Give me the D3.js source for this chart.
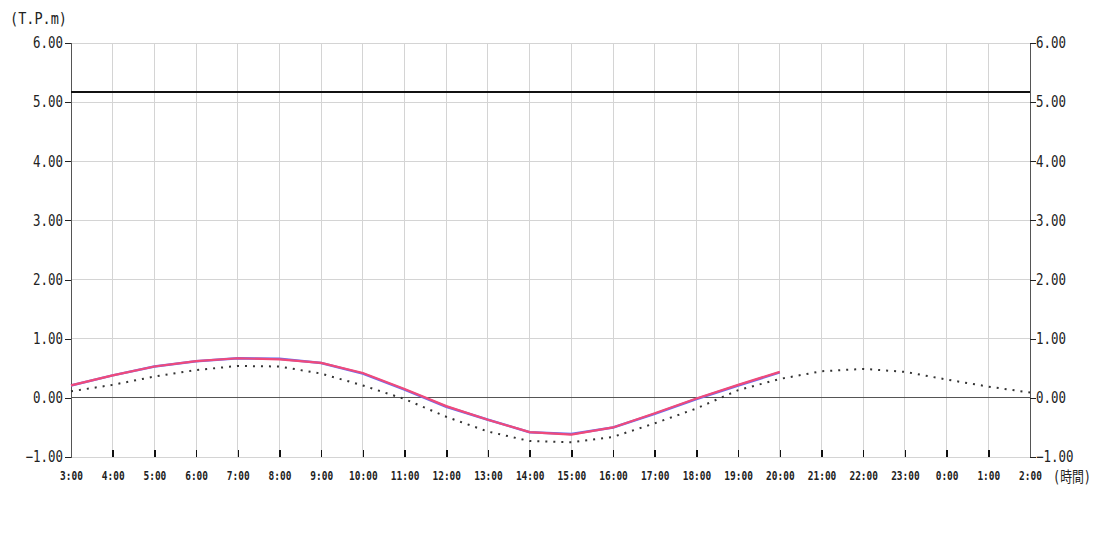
<!DOCTYPE html>
<html><head><meta charset="utf-8">
<script src="https://cdn.jsdelivr.net/npm/d3@7"></script>
<style>body{margin:0;background:#fff}svg{display:block}</style>
</head><body><svg id="c" width="1100" height="550"></svg>
<script>
const hours = ["3:00","4:00","5:00","6:00","7:00","8:00","9:00","10:00","11:00","12:00","13:00","14:00","15:00","16:00","17:00","18:00","19:00","20:00","21:00","22:00","23:00","0:00","1:00","2:00"];
const observed = [0.21,0.38,0.53,0.62,0.67,0.65,0.59,0.42,0.15,-0.14,-0.37,-0.58,-0.62,-0.50,-0.26,-0.01,0.22,0.44];
const observedBlue = [0.21,0.38,0.53,0.62,0.67,0.66,0.59,0.41,0.14,-0.15,-0.37,-0.58,-0.61,-0.50,-0.27,-0.02,0.21,0.43];
const predicted = [0.11,0.22,0.36,0.47,0.54,0.53,0.41,0.21,-0.02,-0.32,-0.57,-0.73,-0.75,-0.66,-0.43,-0.18,0.13,0.32,0.45,0.49,0.44,0.31,0.19,0.09];
const threshold = 5.17;
const yTicks = [-1,0,1,2,3,4,5,6];

const svg = d3.select("#c");
const L=71,R=1030,T=43,B=457;
const x = d3.scalePoint().domain(hours).range([L,R]);
const y = d3.scaleLinear().domain([-1,6]).range([B,T]);
const mono = "'DejaVu Sans Mono', monospace";
const condense = (sel, fs, k) => sel.each(function(){
  const t = d3.select(this); const n = t.text().length;
  t.attr("textLength", n*0.602*fs*k).attr("lengthAdjust","spacingAndGlyphs");
});

// grid
svg.append("g").selectAll("line").data(hours).join("line")
  .attr("x1",d=>x(d)).attr("x2",d=>x(d)).attr("y1",T).attr("y2",B)
  .attr("stroke","#d4d4d4").attr("stroke-width",1).attr("shape-rendering","crispEdges");
svg.append("g").selectAll("line").data(yTicks).join("line")
  .attr("x1",L).attr("x2",R).attr("y1",d=>y(d)).attr("y2",d=>y(d))
  .attr("stroke",d=>d===0?"#555":"#d4d4d4").attr("stroke-width",1).attr("shape-rendering","crispEdges");

// axes
const la = svg.append("g").attr("transform",`translate(${L},0)`)
  .call(d3.axisLeft(y).tickValues(yTicks).tickFormat(d3.format(".2f")).tickSize(6).tickPadding(2));
const ra = svg.append("g").attr("transform",`translate(${R},0)`)
  .call(d3.axisRight(y).tickValues(yTicks).tickFormat(d3.format(".2f")).tickSize(6).tickPadding(0));
[la,ra].forEach(a=>{
  a.select(".domain").attr("stroke","#555").attr("shape-rendering","crispEdges");
  a.selectAll(".tick line").attr("stroke","#222").attr("shape-rendering","crispEdges");
  const t = a.selectAll("text").attr("font-family",mono).attr("font-size",15).attr("fill","#222");
  condense(t,15,0.83);
});

const ba = svg.append("g").attr("transform",`translate(0,${B})`)
  .call(d3.axisBottom(x).tickSize(-7).tickPadding(14));
ba.select(".domain").remove();
ba.selectAll(".tick line").attr("stroke","#111").attr("stroke-width",1.5).attr("shape-rendering","crispEdges")
  .filter(d=>d===hours[0]||d===hours[hours.length-1]).remove();
const bt = ba.selectAll("text").attr("font-family",mono).attr("font-size",12).attr("font-weight","bold").attr("fill","#222");
condense(bt,12,0.79);

// threshold
svg.append("line").attr("x1",L).attr("x2",R).attr("y1",y(threshold)).attr("y2",y(threshold))
  .attr("stroke","#111").attr("stroke-width",2);

const line = d3.line().x((d,i)=>x(hours[i])).y(d=>y(d));
svg.append("path").datum(predicted).attr("d",line).attr("fill","none")
  .attr("stroke","#333").attr("stroke-width",2).attr("stroke-dasharray","2,6");
svg.append("path").datum(observedBlue).attr("d",line).attr("fill","none")
  .attr("stroke","#6a6cf0").attr("stroke-width",2.5);
svg.append("path").datum(observed).attr("d",line).attr("fill","none")
  .attr("stroke","#f04a7a").attr("stroke-width",2.2);

svg.append("text").attr("x",10).attr("y",24).attr("font-family",mono).attr("font-size",15).attr("fill","#222")
  .attr("textLength",57).attr("lengthAdjust","spacingAndGlyphs").text("(T.P.m)");
svg.append("text").attr("x",1053).attr("y",482).attr("font-family",mono+", 'Noto Sans CJK JP'").attr("font-size",15).attr("fill","#222")
  .attr("textLength",38).attr("lengthAdjust","spacingAndGlyphs").text("(時間)");
</script></body></html>
